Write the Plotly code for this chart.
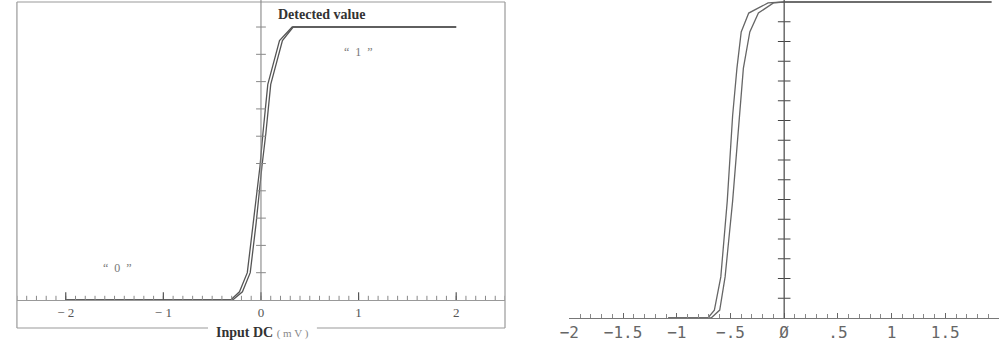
import plotly.graph_objects as go

# ---------------- data ----------------
# Left panel: detected value vs input DC (mV), two sweeps
left_x_a = [-2.0, -0.31, -0.22, -0.14, -0.08, -0.04, -0.01, 0.02, 0.07, 0.19, 0.32, 2.0]
left_y_a = [0.0, 0.0, 0.03, 0.10, 0.28, 0.39, 0.49, 0.61, 0.79, 0.95, 1.0, 1.0]
left_x_b = [-2.0, -0.29, -0.19, -0.11, -0.05, -0.02, 0.01, 0.05, 0.10, 0.22, 0.33, 2.0]
left_y_b = [0.0, 0.0, 0.03, 0.10, 0.28, 0.39, 0.49, 0.61, 0.79, 0.95, 1.0, 1.0]

# Right panel: two sweeps
right_x_a = [-1.08, -0.71, -0.65, -0.59, -0.53, -0.48, -0.44, -0.40, -0.33, -0.15, 0.0, 1.93]
right_y_a = [0.0, 0.0, 0.025, 0.13, 0.37, 0.64, 0.79, 0.905, 0.965, 0.997, 1.0, 1.0]
right_x_b = [-1.08, -0.68, -0.60, -0.55, -0.48, -0.42, -0.38, -0.32, -0.24, -0.10, 0.0, 1.93]
right_y_b = [0.0, 0.0, 0.025, 0.13, 0.37, 0.64, 0.79, 0.905, 0.965, 0.997, 1.0, 1.0]

left_tickvals = [-2, -1, 0, 1, 2]
left_ticktext = ["\u2212 2", "\u2212 1", "0", "1", "2"]
left_xminor = [round(-2.5 + 0.1 * i, 2) for i in range(51)]
left_ymarks = [round(0.1 * i, 2) for i in range(1, 11)]

right_tickvals = [-2, -1.5, -1, -0.5, 0, 0.5, 1, 1.5, 2]
right_ticktext = ["\u22122", "\u22121.5", "\u22121", "\u2212.5", "\u00d8", ".5", "1", "1.5", "2"]
right_ymarks = [i / 16 for i in range(1, 16)]

W, H = 1000, 347
def px(x):
    return x / W
def py(y):
    return 1 - y / H

fig = go.Figure()

# left curves
for xs, ys in [(left_x_a, left_y_a), (left_x_b, left_y_b)]:
    fig.add_trace(go.Scatter(x=xs, y=ys, mode="lines", xaxis="x", yaxis="y",
                             line=dict(color="#555555", width=1.3), hoverinfo="skip"))
# left tick crosses
fig.add_trace(go.Scatter(x=left_xminor, y=[0] * len(left_xminor), mode="markers", xaxis="x", yaxis="y",
                         marker=dict(symbol="line-ns-open", size=6, color="#888",
                                     line=dict(color="#888", width=1)),
                         hoverinfo="skip"))
fig.add_trace(go.Scatter(x=left_tickvals, y=[0] * len(left_tickvals), mode="markers", xaxis="x", yaxis="y",
                         marker=dict(symbol="line-ns-open", size=11, color="#555",
                                     line=dict(color="#555", width=1.2)),
                         hoverinfo="skip"))
fig.add_trace(go.Scatter(x=[0] * len(left_ymarks), y=left_ymarks, mode="markers", xaxis="x", yaxis="y",
                         marker=dict(symbol="line-ew-open", size=7, color="#888",
                                     line=dict(color="#888", width=1)),
                         hoverinfo="skip"))

# right curves
for xs, ys in [(right_x_a, right_y_a), (right_x_b, right_y_b)]:
    fig.add_trace(go.Scatter(x=xs, y=ys, mode="lines", xaxis="x2", yaxis="y2",
                             line=dict(color="#666666", width=1.3), hoverinfo="skip"))
fig.add_trace(go.Scatter(x=[0] * len(right_ymarks), y=right_ymarks, mode="markers", xaxis="x2", yaxis="y2",
                         marker=dict(symbol="line-ew-open", size=9, color="#444",
                                     line=dict(color="#444", width=1.2)),
                         hoverinfo="skip"))

axis_common = dict(showgrid=False, zeroline=False)

fig.update_layout(
    width=W, height=H,
    margin=dict(l=0, r=0, t=0, b=0),
    paper_bgcolor="white", plot_bgcolor="white",
    showlegend=False,
    xaxis=dict(domain=[px(7), px(500)], range=[-2.5, 2.5], anchor="y",
               showline=True, linecolor="#999", linewidth=1,
               tickvals=left_tickvals, ticktext=left_ticktext, ticks="",
               tickfont=dict(family="Liberation Serif", size=13, color="#555"),
               **axis_common),
    yaxis=dict(domain=[py(300), 1.0], range=[0, 1.099], anchor="x",
               showline=False, showticklabels=False, ticks="", **axis_common),
    xaxis2=dict(domain=[px(565), px(999)], range=[-2, 2], anchor="y2",
                showline=True, linecolor="#777", linewidth=1.2,
                tickvals=right_tickvals, ticktext=right_ticktext,
                ticks="inside", ticklen=5, tickcolor="#666", tickwidth=1,
                minor=dict(dtick=0.1, tick0=0, ticks="inside", ticklen=4, tickcolor="#888", tickwidth=1),
                tickfont=dict(family="DejaVu Sans Mono", size=16, color="#666"),
                **axis_common),
    yaxis2=dict(domain=[py(318), 1.0], range=[0, 1.0063], anchor="x2",
                showline=False, showticklabels=False, ticks="", **axis_common),
)

frame = dict(color="#999999", width=1.2)
shapes = [
    # left frame
    dict(type="line", xref="paper", yref="paper", x0=px(7), x1=px(500), y0=py(2), y1=py(2), line=frame),
    dict(type="line", xref="paper", yref="paper", x0=px(7), x1=px(7), y0=py(2), y1=py(328), line=frame),
    dict(type="line", xref="paper", yref="paper", x0=px(500), x1=px(500), y0=py(2), y1=py(328), line=frame),
    dict(type="line", xref="paper", yref="paper", x0=px(7), x1=px(200), y0=py(328), y1=py(328), line=frame),
    dict(type="line", xref="paper", yref="paper", x0=px(310), x1=px(500), y0=py(328), y1=py(328), line=frame),
    # left vertical axis at x = 0
    dict(type="line", xref="x", yref="y domain", x0=0, x1=0, y0=0, y1=1,
         line=dict(color="#888", width=1.1)),
    # right vertical axis at x = 0
    dict(type="line", xref="x2", yref="y2 domain", x0=0, x1=0, y0=0, y1=1,
         line=dict(color="#555", width=1.3)),
]
fig.update_layout(shapes=shapes)

ann_common = dict(xref="paper", yref="paper", showarrow=False, xanchor="center", yanchor="middle")
annotations = [
    dict(text="<b>Detected value</b>", x=px(315), y=py(14),
         font=dict(family="Liberation Serif", size=14, color="#333"), **ann_common),
    dict(text="\u201c&nbsp;&nbsp;1&nbsp;&nbsp;\u201d", x=px(352), y=py(52),
         font=dict(family="Liberation Serif", size=12, color="#777"), **ann_common),
    dict(text="\u201c&nbsp;&nbsp;0&nbsp;&nbsp;\u201d", x=px(109), y=py(268),
         font=dict(family="Liberation Serif", size=12, color="#777"), **ann_common),
    dict(text="<b>Input DC</b> <span style='font-size:11px;color:#888'>( m V )</span>",
         x=px(255), y=py(332),
         font=dict(family="Liberation Serif", size=14, color="#333"), **ann_common),
]
fig.update_layout(annotations=annotations)

fig.write_html("out.html", config={"displayModeBar": False},
               post_script="document.body.style.margin='0';")
